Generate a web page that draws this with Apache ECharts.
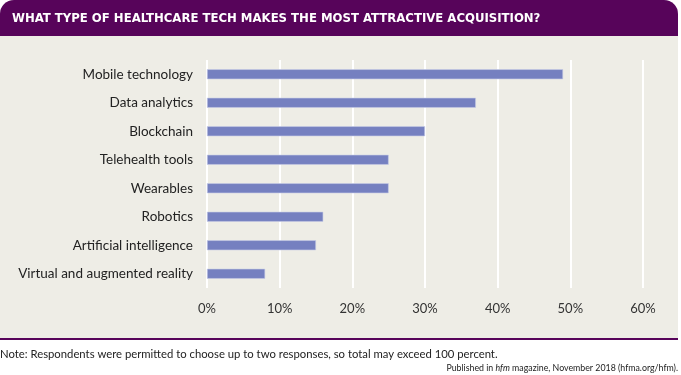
<!DOCTYPE html>
<html>
<head>
<meta charset="utf-8">
<script src="https://cdn.jsdelivr.net/npm/echarts@6/dist/echarts.min.js"></script>
<style>
  html, body { margin: 0; padding: 0; background: #ffffff; }
  #main { width: 681px; height: 375px; }
</style>
</head>
<body>
<div id="main"></div>
<script>
// categories, top to bottom
var categories = [
  "Mobile technology",
  "Data analytics",
  "Blockchain",
  "Telehealth tools",
  "Wearables",
  "Robotics",
  "Artificial intelligence",
  "Virtual and augmented reality"
];
// percent of respondents
var shares = [49, 37, 30, 25, 25, 16, 15, 8];

var titleText = "WHAT TYPE OF HEALTHCARE TECH MAKES THE MOST ATTRACTIVE ACQUISITION?";
var noteText = "Note: Respondents were permitted to choose up to two responses, so total may exceed 100 percent.";

var purple = "#57045a";
var panel = "#eeede6";
var labelFont = "Lato";

var myChart = echarts.init(document.getElementById("main"));
myChart.setOption({
  backgroundColor: "#ffffff",
  animation: false,
  graphic: [
    // gray panel
    { type: "rect", z: -10, shape: { x: 0, y: 30, width: 678, height: 308 }, style: { fill: panel } },
    // title band
    { type: "rect", z: -9, shape: { x: 0, y: 0, width: 678, height: 36, r: [14, 14, 0, 0] }, style: { fill: purple } },
    {
      type: "text", left: 12, top: 12,
      style: { text: titleText, fill: "#ffffff", font: "bold 13px 'DejaVu Sans Condensed'" }
    },
    // bottom rule
    { type: "rect", z: -9, shape: { x: 0, y: 338, width: 678, height: 2 }, style: { fill: purple } },
    {
      type: "text", left: 0, top: 349,
      style: { text: noteText, fill: "#222222", font: "11.3px " + labelFont }
    },
    {
      type: "text", right: 3, top: 364,
      style: {
        text: "{n|Published in }{i|hfm}{n| magazine, November 2018 (hfma.org/hfm).}",
        rich: {
          n: { fill: "#222222", font: "8.8px " + labelFont },
          i: { fill: "#222222", font: "italic 8.8px " + labelFont }
        }
      }
    }
  ],
  grid: { left: 207, right: 38, top: 60, bottom: 87 },
  xAxis: {
    type: "value",
    min: 0,
    max: 60,
    interval: 10,
    axisLine: { show: false },
    axisTick: { show: false },
    splitLine: { lineStyle: { color: "#ffffff", width: 2 } },
    axisLabel: {
      formatter: "{value}%",
      color: "#333333",
      fontFamily: labelFont,
      fontSize: 13,
      margin: 14
    }
  },
  yAxis: {
    type: "category",
    data: categories,
    inverse: true,
    axisLine: { show: false },
    axisTick: { show: false },
    axisLabel: {
      color: "#222222",
      fontFamily: labelFont,
      fontSize: 13.5,
      margin: 14
    }
  },
  series: [
    {
      type: "bar",
      data: shares,
      barWidth: 10,
      itemStyle: { color: "#7580c0", borderColor: "#c8cce6", borderWidth: 0.6 }
    }
  ]
});
</script>
</body>
</html>
